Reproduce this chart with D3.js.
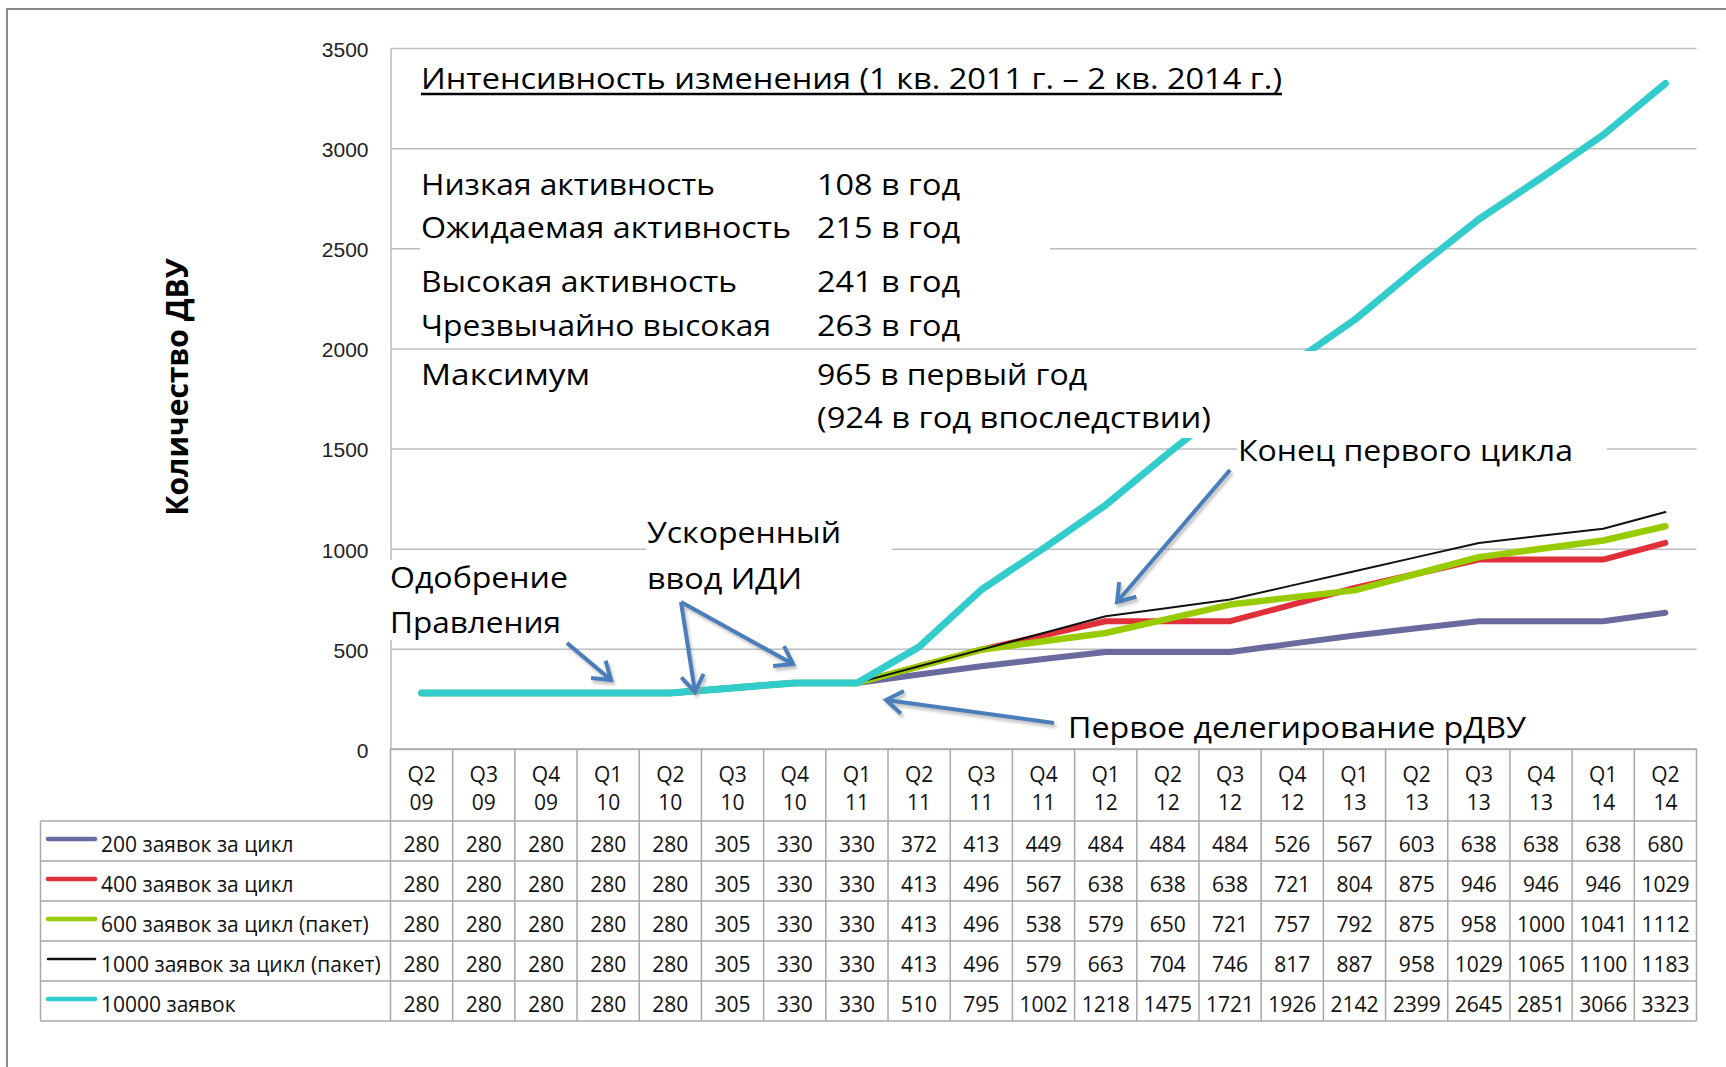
<!DOCTYPE html>
<html>
<head>
<meta charset="utf-8">
<script src="https://cdn.jsdelivr.net/npm/d3@7"></script>
<style>
  body { margin: 0; background: #fff; }
  svg { display: block; font-family: 'Open Sans', sans-serif; }
  .y-axis .domain, .y-axis line { stroke: #bdbdbd; stroke-width: 1.5; }
  .y-axis text { font-size: 21px; fill: #222; }
  .table line { stroke: #a8a8a8; stroke-width: 1.5; }
  .table text { font-size: 21px; fill: #111; }
  .note { font-size: 30px; fill: #000; }
</style>
</head>
<body>
<svg id="chart" width="1726" height="1067"></svg>
<script>
// Quarters along the x axis (label line 1 / line 2)
const quarters = ['Q2 09', 'Q3 09', 'Q4 09', 'Q1 10', 'Q2 10', 'Q3 10', 'Q4 10', 'Q1 11',
  'Q2 11', 'Q3 11', 'Q4 11', 'Q1 12', 'Q2 12', 'Q3 12', 'Q4 12', 'Q1 13', 'Q2 13', 'Q3 13',
  'Q4 13', 'Q1 14', 'Q2 14'];

const yTicks = [0, 500, 1000, 1500, 2000, 2500, 3000, 3500];

const seriesNames = ['200 заявок за цикл', '400 заявок за цикл', '600 заявок за цикл (пакет)',
  '1000 заявок за цикл (пакет)', '10000 заявок'];
const seriesColors = ['#6a6a9e', '#e0303a', '#99cc00', '#111111', '#33cccc'];
const seriesWidths = [6, 6, 6.5, 2, 7];

const s200 = [280, 280, 280, 280, 280, 305, 330, 330, 372, 413, 449, 484, 484, 484, 526, 567, 603, 638, 638, 638, 680];
const s400 = [280, 280, 280, 280, 280, 305, 330, 330, 413, 496, 567, 638, 638, 638, 721, 804, 875, 946, 946, 946, 1029];
const s600 = [280, 280, 280, 280, 280, 305, 330, 330, 413, 496, 538, 579, 650, 721, 757, 792, 875, 958, 1000, 1041, 1112];
const s1000 = [280, 280, 280, 280, 280, 305, 330, 330, 413, 496, 579, 663, 704, 746, 817, 887, 958, 1029, 1065, 1100, 1183];
const s10000 = [280, 280, 280, 280, 280, 305, 330, 330, 510, 795, 1002, 1218, 1475, 1721, 1926, 2142, 2399, 2645, 2851, 3066, 3323];
const seriesValues = [s200, s400, s600, s1000, s10000];

// Text of the info box in the upper left
const infoTitle = 'Интенсивность изменения (1 кв. 2011 г. – 2 кв. 2014 г.)';
const infoLabels = ['Низкая активность', 'Ожидаемая активность', 'Высокая активность', 'Чрезвычайно высокая', 'Максимум', ''];
const infoValues = ['108 в год', '215 в год', '241 в год', '263 в год', '965 в первый год', '(924 в год впоследствии)'];

class QuarterChart {
  constructor(svg) {
    this.svg = svg;
    this.init();
    this.drawTable();
    this.drawLines();
    this.drawNotes();
  }

  init() {
    // Plot area (the data table sits right under it)
    this.left = 390.5;
    this.right = 1696.5;
    this.top = 48;
    this.bottom = 749;
    this.tableLeft = 40.5;
    this.headerH = 72;
    this.rowH = 40;

    // Outer frame of the chart
    this.svg.append('rect')
      .attr('x', 7).attr('y', 9)
      .attr('width', 1800).attr('height', 1200)
      .attr('fill', 'none')
      .attr('stroke', '#8a8a8a')
      .attr('stroke-width', 2);

    this.xScale = d3.scaleBand()
      .domain(quarters)
      .range([this.left, this.right]);

    this.yScale = d3.scaleLinear()
      .domain([0, 3500])
      .range([this.bottom, this.top]);

    // Y axis with gridlines across the plot
    const yAxis = this.svg.append('g')
      .attr('class', 'y-axis')
      .attr('transform', `translate(${this.left},0)`)
      .call(d3.axisLeft(this.yScale)
        .tickValues(yTicks)
        .tickFormat(d3.format('d'))
        .tickSize(-(this.right - this.left))
        .tickSizeOuter(0)
        .tickPadding(22));
    yAxis.selectAll('text').attr('dy', '0.4em');

    // Rotated axis title
    this.svg.append('text')
      .attr('transform', 'rotate(-90)')
      .attr('x', -387)
      .attr('y', 188)
      .attr('text-anchor', 'middle')
      .style('font-size', '30px')
      .style('font-weight', 'bold')
      .text('Количество ДВУ');
  }

  drawTable() {
    const t = this.svg.append('g').attr('class', 'table');
    const bw = this.xScale.bandwidth();
    const rowsTop = this.bottom + this.headerH;
    const tableBottom = rowsTop + this.rowH * seriesNames.length;

    // Column separators
    const edges = quarters.map((q) => this.xScale(q)).concat([this.right]);
    t.selectAll('.vline')
      .data(edges)
      .enter().append('line')
      .attr('x1', (d) => d).attr('x2', (d) => d)
      .attr('y1', this.bottom).attr('y2', tableBottom);

    t.append('line')
      .attr('x1', this.left).attr('x2', this.right)
      .attr('y1', this.bottom).attr('y2', this.bottom);

    // Row separators (legend column included)
    d3.range(seriesNames.length + 1).forEach((i) => {
      t.append('line')
        .attr('x1', this.tableLeft).attr('x2', this.right)
        .attr('y1', rowsTop + i * this.rowH).attr('y2', rowsTop + i * this.rowH);
    });
    t.append('line')
      .attr('x1', this.tableLeft).attr('x2', this.tableLeft)
      .attr('y1', rowsTop).attr('y2', tableBottom);

    // Category labels, two lines each
    quarters.forEach((q) => {
      const parts = q.split(' ');
      const cx = this.xScale(q) + bw / 2;
      t.append('text').attr('x', cx).attr('y', this.bottom + 33)
        .attr('text-anchor', 'middle').text(parts[0]);
      t.append('text').attr('x', cx).attr('y', this.bottom + 61)
        .attr('text-anchor', 'middle').text(parts[1]);
    });

    // Legend keys and values
    seriesValues.forEach((vals, s) => {
      const rowY = rowsTop + s * this.rowH;
      t.append('line')
        .attr('x1', 48).attr('x2', 95)
        .attr('y1', rowY + 18).attr('y2', rowY + 18)
        .style('stroke', seriesColors[s])
        .style('stroke-width', s === 3 ? 2.5 : 4.5)
        .style('stroke-linecap', 'round');
      t.append('text')
        .attr('x', 101).attr('y', rowY + 31)
        .text(seriesNames[s]);

      t.selectAll(`.val-${s}`)
        .data(vals)
        .enter().append('text')
        .attr('x', (d, i) => this.xScale(quarters[i]) + bw / 2)
        .attr('y', rowY + 31)
        .attr('text-anchor', 'middle')
        .text((d) => d);
    });
  }

  drawLines() {
    const bw = this.xScale.bandwidth();
    const line = d3.line()
      .x((d, i) => this.xScale(quarters[i]) + bw / 2)
      .y((d) => this.yScale(d));

    this.svg.append('g')
      .selectAll('path')
      .data(seriesValues)
      .enter().append('path')
      .attr('d', line)
      .attr('fill', 'none')
      .attr('stroke', (d, i) => seriesColors[i])
      .attr('stroke-width', (d, i) => seriesWidths[i])
      .attr('stroke-linejoin', 'round')
      .attr('stroke-linecap', 'round');
  }

  drawNotes() {
    // White text-box backgrounds that hide gridlines / the teal line
    const boxes = [
      [420, 226, 630, 26],
      [420, 351, 910, 87],
      [1237, 430, 370, 40],
      [646, 520, 246, 80],
      [389, 560, 186, 80],
    ];
    this.svg.append('g').selectAll('rect')
      .data(boxes)
      .enter().append('rect')
      .attr('x', (d) => d[0]).attr('y', (d) => d[1])
      .attr('width', (d) => d[2]).attr('height', (d) => d[3])
      .attr('fill', '#fff');

    const notes = this.svg.append('g').attr('class', 'notes');
    // Stretch text a bit to the widths of the original text boxes
    const addNote = (txt, x, y, w) => {
      if (!txt) return;
      notes.append('text').attr('class', 'note')
        .attr('x', x).attr('y', y)
        .attr('textLength', w)
        .attr('lengthAdjust', 'spacingAndGlyphs')
        .text(txt);
    };

    addNote(infoTitle, 421, 89, 861);
    notes.append('line')
      .attr('x1', 421).attr('x2', 1282)
      .attr('y1', 94).attr('y2', 94)
      .attr('stroke', '#000')
      .attr('stroke-width', 2.5);

    const rowBase = [195, 238, 291.5, 336, 385, 428];
    const labelW = [294, 370, 316, 350, 169, 0];
    const valueW = [143, 143, 143, 143, 270, 394];
    infoLabels.forEach((lab, i) => {
      addNote(lab, 421, rowBase[i], labelW[i]);
      addNote(infoValues[i], 817, rowBase[i], valueW[i]);
    });

    const labels = [
      ['Конец первого цикла', 1238, 461, 335],
      ['Первое делегирование рДВУ', 1068, 738, 458],
      ['Ускоренный', 647, 543, 194],
      ['ввод ИДИ', 647, 589, 155],
      ['Одобрение', 390, 588, 178],
      ['Правления', 390, 633, 171],
    ];
    labels.forEach(([txt, x, y, w]) => addNote(txt, x, y, w));

    // Arrows
    const defs = this.svg.append('defs');
    defs.append('filter').attr('id', 'shadow')
      .append('feGaussianBlur').attr('stdDeviation', 1.4);

    const arrows = [
      [567, 643, 611, 680],
      [681, 602, 695, 692],
      [681, 602, 793, 664],
      [1230, 470, 1117, 602],
      [1054, 723, 886, 700],
    ];
    const arrowPath = ([x1, y1, x2, y2]) => {
      const a = Math.atan2(y2 - y1, x2 - x1);
      const len = 20;
      const sp = 0.6;
      const h1 = [x2 - len * Math.cos(a - sp), y2 - len * Math.sin(a - sp)];
      const h2 = [x2 - len * Math.cos(a + sp), y2 - len * Math.sin(a + sp)];
      return `M${x1},${y1}L${x2},${y2}M${h1}L${x2},${y2}L${h2}`;
    };
    notes.selectAll('.arrow-shadow')
      .data(arrows)
      .enter().append('path')
      .attr('d', arrowPath)
      .attr('transform', 'translate(2,3)')
      .attr('fill', 'none')
      .attr('stroke', '#9a9a9a')
      .attr('stroke-opacity', 0.6)
      .attr('stroke-width', 4)
      .attr('filter', 'url(#shadow)');
    notes.selectAll('.arrow')
      .data(arrows)
      .enter().append('path')
      .attr('d', arrowPath)
      .attr('fill', 'none')
      .attr('stroke', '#4a7ebb')
      .attr('stroke-width', 4);
  }
}

new QuarterChart(d3.select('#chart'));
</script>
</body>
</html>
